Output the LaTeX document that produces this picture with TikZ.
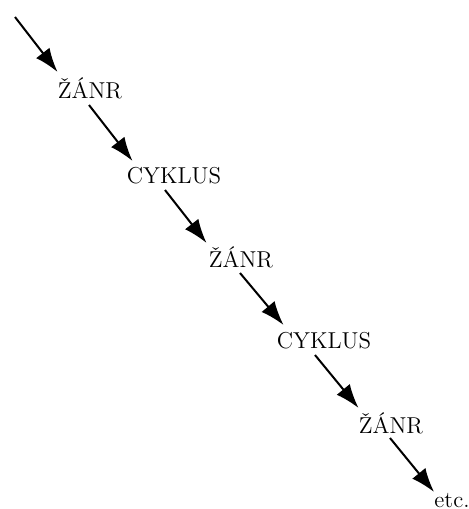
\documentclass[tikz,border=0pt]{standalone}
\usetikzlibrary{arrows.meta}
\tikzset{
  >={Latex[length=12pt,width=8.5pt]},
  term/.style={
    inner sep=0pt,
    anchor=base,
    font=\fontsize{11.5}{13}\selectfont
  },
  link/.style={->, line width=1pt}
}

\begin{document}
\begin{tikzpicture}[x=0.5pt,y=-0.5pt]
  \useasboundingbox (0,0) rectangle (469,509);
  \coordinate (in) at (15,17);
  \node[term] (zanr1)   at (90,98)   {ŽÁNR};
  \node[term] (cyklus1) at (174,183) {CYKLUS};
  \node[term] (zanr2)   at (241,267) {ŽÁNR};
  \node[term] (cyklus2) at (324,348) {CYKLUS};
  \node[term] (zanr3)   at (391,433) {ŽÁNR};
  \node[term] (etc)     at (452,507) {etc.};

  \draw[link] (in) -- ([yshift=13pt]zanr1.base west);
  \draw[link] ([xshift=-0.5pt,yshift=-3.5pt]zanr1.base) -- ([xshift=3pt,yshift=11pt]cyklus1.base west);
  \draw[link] ([xshift=-4.5pt,yshift=-3.5pt]cyklus1.base) -- ([xshift=-1pt,yshift=12pt]zanr2.base west);
  \draw[link] ([xshift=-0.5pt,yshift=-3pt]zanr2.base) -- ([xshift=3.5pt,yshift=11.5pt]cyklus2.base west);
  \draw[link] ([xshift=-4.5pt,yshift=-3.5pt]cyklus2.base) -- ([yshift=12.5pt]zanr3.base west);
  \draw[link] ([xshift=-0.5pt,yshift=-2.5pt]zanr3.base) -- ([yshift=7.5pt]etc.base west);
\end{tikzpicture}
\end{document}
